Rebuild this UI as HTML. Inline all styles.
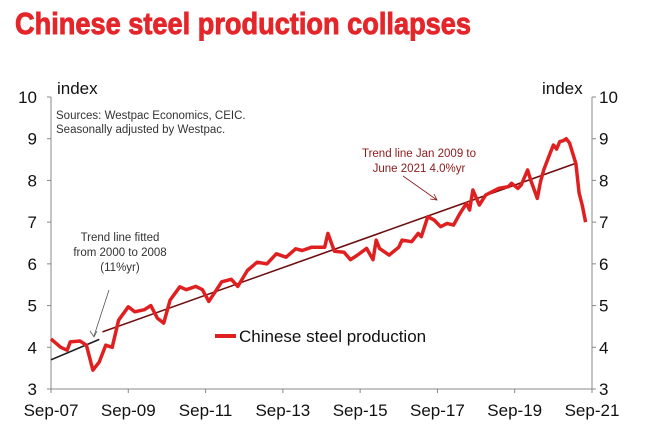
<!DOCTYPE html>
<html><head><meta charset="utf-8"><style>
body{margin:0;background:#fff;width:653px;height:438px;overflow:hidden;font-family:"Liberation Sans",sans-serif}
</style></head><body>
<svg width="653" height="438" viewBox="0 0 653 438">
<text x="15" y="34" font-family="Liberation Sans Narrow, Liberation Sans, sans-serif" font-weight="bold" font-size="31" fill="#e4262b" stroke="#e4262b" stroke-width="0.9" textLength="456" lengthAdjust="spacingAndGlyphs">Chinese steel production collapses</text>
<text x="57" y="94" font-size="17" fill="#111">index</text>
<text x="542" y="94" font-size="17" fill="#111">index</text>
<text x="56" y="119" font-size="11.5" fill="#333">Sources: Westpac Economics, CEIC.</text>
<text x="56" y="133" font-size="11.5" fill="#333">Seasonally adjusted by Westpac.</text>
<g id="axes"></g>
<g id="marks"></g>
<text x="120" y="241" font-size="11.5" fill="#333" text-anchor="middle"><tspan x="120">Trend line fitted</tspan><tspan x="120" dy="15">from 2000 to 2008</tspan><tspan x="120" dy="15">(11%yr)</tspan></text>
<line x1="109" y1="290" x2="94" y2="336" stroke="#555" stroke-width="0.8"/>
<path d="M90,331 L94,337 L97,331" fill="none" stroke="#555" stroke-width="0.8"/>
<text x="419" y="157" font-size="11.5" fill="#8b1a1a" text-anchor="middle"><tspan x="419">Trend line Jan 2009 to</tspan><tspan x="419" dy="15">June 2021 4.0%yr</tspan></text>
<line x1="403" y1="176" x2="437" y2="200" stroke="#8b1a1a" stroke-width="0.8"/>
<path d="M430,199 L437,200 L434,194" fill="none" stroke="#8b1a1a" stroke-width="0.8"/>
<line x1="215" y1="336" x2="236" y2="336" stroke="#e02020" stroke-width="4"/>
<text x="239" y="342" font-size="17" fill="#111">Chinese steel production</text>
</svg>
<script>
// months since Sep-07
const months=[0,3,5,6,9,11,13,15,17,19,21,24,26,29,31,33,35,37,40,42,45,47,49,51,53,56,58,61,64,67,70,73,76,78,81,85,86,88,91,93,95,98,100,101,102,105,108,109,112,114,115,117,119,121,123,125,127,129,130,131,133,135,137,139,142,143,145,146,148,149,151,152,153,155,156,157,158,159,160,161,163,164,165,166];
const production=[4.2,4.0,3.93,4.13,4.15,4.05,3.45,3.65,4.05,4.0,4.65,4.97,4.85,4.9,5.0,4.7,4.58,5.13,5.45,5.38,5.46,5.38,5.1,5.33,5.57,5.63,5.46,5.84,6.04,6.0,6.24,6.16,6.36,6.32,6.4,6.4,6.73,6.3,6.28,6.1,6.2,6.37,6.1,6.57,6.37,6.21,6.4,6.57,6.53,6.73,6.65,7.13,7.05,6.89,6.97,6.93,7.21,7.45,7.29,7.77,7.41,7.65,7.73,7.81,7.85,7.93,7.81,7.89,8.25,8.0,7.57,7.97,8.25,8.65,8.85,8.75,8.93,8.95,9.0,8.9,8.4,7.7,7.4,7.0];
const oldTrendMonths=[0,15];
const oldTrendValues=[3.7,4.19];
const newTrendMonths=[16,163];
const newTrendValues=[4.37,8.41];
const yTicks=[3,4,5,6,7,8,9,10];
const xTickMonths=[0,24,48,72,96,120,144,168];
const xTickLabels=["Sep-07","Sep-09","Sep-11","Sep-13","Sep-15","Sep-17","Sep-19","Sep-21"];

const X0=51,X1=592,Y0=389,Y1=97;
const xs=m=>X0+(X1-X0)*m/168;
const ys=v=>Y0-(Y0-Y1)*(v-3)/7;
const NS='http://www.w3.org/2000/svg';
function mk(tag,attrs,parent){const e=document.createElementNS(NS,tag);for(const k in attrs)e.setAttribute(k,attrs[k]);parent.appendChild(e);return e;}
const ax=document.getElementById('axes'),mg=document.getElementById('marks');
let l=mk('line',{x1:X0,y1:Y1,x2:X0,y2:Y0,stroke:'#888','stroke-width':1},ax);


l=mk('line',{x1:X1,y1:Y1,x2:X1,y2:Y0,stroke:'#888','stroke-width':1},ax);


l=mk('line',{x1:X0,y1:Y0,x2:X1,y2:Y0,stroke:'#888','stroke-width':1},ax);


yTicks.forEach(v=>{
  const y=ys(v);
  mk('line',{x1:X0-4,y1:y,x2:X0,y2:y,stroke:'#888'},ax);
  mk('line',{x1:X1,y1:y,x2:X1+4,y2:y,stroke:'#888'},ax);
  let t=mk('text',{x:37,y:y+6,'font-size':17,'text-anchor':'end',fill:'#111'},ax);t.textContent=v;
  
  
  t=mk('text',{x:599,y:y+6,'font-size':17,fill:'#111'},ax);t.textContent=v;
  
  
});
xTickMonths.forEach((m,i)=>{
  const x=xs(m);
  mk('line',{x1:x,y1:Y0,x2:x,y2:Y0+4,stroke:'#888'},ax);
  const t=mk('text',{x:x,y:416,'font-size':17,'text-anchor':'middle',fill:'#111'},ax);t.textContent=xTickLabels[i];
  
  
});
const pts=(ms,vs)=>ms.map((m,i)=>xs(m).toFixed(1)+','+ys(vs[i]).toFixed(1)).join(' ');
let p=mk('polyline',{points:pts(oldTrendMonths,oldTrendValues),fill:'none',stroke:'#1a1a1a','stroke-width':1.6},mg);


p=mk('polyline',{points:pts(newTrendMonths,newTrendValues),fill:'none',stroke:'#6e0f0f','stroke-width':1.6},mg);


p=mk('polyline',{points:pts(months,production),fill:'none',stroke:'#e02020','stroke-width':3.5,'stroke-linejoin':'round'},mg);


</script>
</body></html>
